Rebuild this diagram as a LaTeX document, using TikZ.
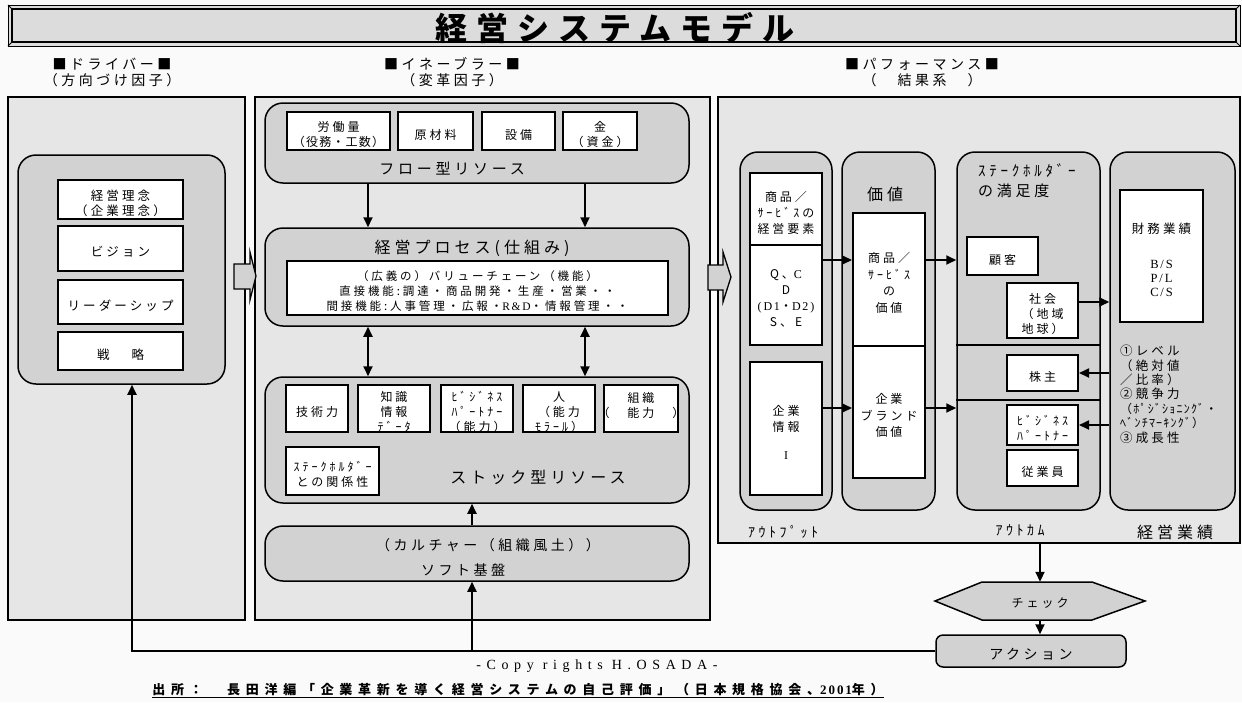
\documentclass[tikz,border=0pt]{standalone}
\usepackage{fontspec}
\setmainfont{Noto Sans CJK JP}
\newfontfamily\jp[LetterSpace=25]{Noto Sans CJK JP}
\newfontfamily\jpn[LetterSpace=10]{Noto Sans CJK JP}
\newfontfamily\jpw[LetterSpace=44]{Noto Sans CJK JP}
\newfontfamily\jpt[LetterSpace=28]{Noto Sans CJK JP}
\newfontfamily\ser[LetterSpace=15]{Liberation Serif}
\newfontfamily\serc[LetterSpace=40]{Liberation Serif}
\usetikzlibrary{arrows.meta,fit}
\definecolor{bgc}{HTML}{FAFAFA}
\definecolor{panelc}{HTML}{E6E6E6}
\definecolor{contc}{HTML}{D2D2D2}
\definecolor{titlec}{HTML}{DCDCDC}
\newcommand{\fs}[2]{\fontsize{#1}{#2}\selectfont}
\tikzset{
 panel/.style={draw, line width=1.5pt, fill=panelc, inner sep=0pt},
 cont/.style={draw, line width=1.5pt, fill=contc, rounded corners=18pt, inner sep=0pt},
 wbox/.style={draw, line width=2pt, fill=white, inner sep=0pt},
 boxtext/.style={inner sep=0pt, align=center, font=\jp\fs{12}{15}},
 lab/.style={inner sep=0pt, align=center},
 arr/.style={line width=1.8pt, -{Triangle[length=10pt,width=9pt]}},
 darr/.style={line width=1.8pt, {Triangle[length=10pt,width=9pt]}-{Triangle[length=10pt,width=9pt]}},
 blockarrow/.style={line width=1.3pt, fill=contc, line join=miter},
}
% white box with its text: name, x1, y1, x2, y2, text options, text
\newcommand{\tbox}[7]{%
  \node[wbox, fit={(#2,#3) (#4,#5)}] (#1) {};
  \node[boxtext, #6] (#1t) at ([yshift=-3.5pt]#1.center) {#7};}
\begin{document}
\begin{tikzpicture}[x=1pt,y=-1pt]
\useasboundingbox (0,0) rectangle (1242,702);
\fill[bgc] (0,0) rectangle (1242,702);
% title bar
\draw[line width=1pt, fill=titlec] (8,5) rectangle (1240,46);
\draw[line width=2pt] (12,9) rectangle (1236,42);
\draw[line width=1pt] (8,5) -- (12,9) (1240,5) -- (1236,9) (8,46) -- (12,42) (1240,46) -- (1236,42);
\node[lab, font=\jpt\bfseries\fs{32}{32}] (title) at (615,28) {経営システムモデル};
% section labels
\node[lab, font=\jp\fs{14}{16}] (ldrv) at (112,72) {■ドライバー■\\（方向づけ因子）};
\node[lab, font=\jp\fs{14}{16}] (lenb) at (452,72) {■イネーブラー■\\（変革因子）};
\node[lab, font=\jp\fs{14}{16}] (lprf) at (922,72) {■パフォーマンス■\\（　結果系　）};
% panels
\node[panel, fit={(8,97) (245,620)}] (pdrv) {};
\node[panel, fit={(255,97) (710,620)}] (penb) {};
\node[panel, fit={(718,97) (1240,543)}] (pprf) {};
% driver
\node[cont, fit={(18,155) (225,384)}] (drvc) {};
\tbox{rinen}{58}{180}{183}{219}{font=\jp\fs{12.5}{15}}{経営理念\\（企業理念）}
\tbox{vision}{58}{226}{183}{271}{font=\jp\fs{12.5}{15}}{ビジョン}
\tbox{leader}{58}{280}{183}{324}{font=\jp\fs{12.5}{15}}{リーダーシップ}
\tbox{senryaku}{58}{332}{183}{370}{font=\jp\fs{12.5}{15}}{戦\hspace{22pt}略}
% enabler: flow
\node[cont, fit={(265,103) (689,183)}] (flow) {};
\tbox{labor}{287}{112}{390}{150}{}{労働量\\{\jpn（役務・工数）}}
\tbox{mat}{398}{112}{473}{150}{}{原材料}
\tbox{equip}{482}{112}{555}{150}{}{設備}
\tbox{money}{563}{112}{637}{150}{}{金\\（資金）}
\node[lab, font=\jp\fs{15}{15}] (flowlbl) at (452,169) {フロー型リソース};
% process
\node[cont, fit={(265,228) (689,326)}] (proc) {};
\node[lab, font=\jp\fs{16}{16}] (proclbl) at (472,248) {経営プロセス(仕組み)};
\tbox{vchain}{287}{261}{668}{315}{font=\jp\fs{11.5}{15}}{（広義の）バリューチェーン（機能）\\直接機能:調達・商品開発・生産・営業・・\\間接機能:人事管理・広報・{\ser R\&D}・情報管理・・}
% stock
\node[cont, fit={(265,377) (689,503)}] (stock) {};
\tbox{tech}{286}{385}{348}{432}{}{技術力}
\tbox{know}{358}{385}{430}{432}{}{知識\\情報\\ﾃﾞｰﾀ}
\tbox{bizp}{441}{385}{513}{432}{}{ﾋﾞｼﾞﾈｽ\\ﾊﾟｰﾄﾅｰ\\（能力）}
\tbox{people}{523}{385}{595}{432}{}{人\\（能力\\ﾓﾗｰﾙ）}
\tbox{org}{604}{385}{678}{432}{}{組織\\（　能力　）\\\mbox{}}
\tbox{stkrel}{286}{447}{379}{495}{}{ｽﾃｰｸﾎﾙﾀﾞｰ\\との関係性}
\node[lab, font=\jp\fs{16}{16}] (stocklbl) at (538,477) {ストック型リソース};
% soft
\node[cont, fit={(265,526) (689,581)}] (soft) {};
\node[lab, font=\jp\fs{14}{14}] (culture) at (488,545) {（カルチャー（組織風土））};
\node[lab, font=\jp\fs{14}{14}] (softlbl) at (463,570) {ソフト基盤};
% performance: output
\node[cont, fit={(740,152) (832,510)}] (outp) {};
\tbox{elem}{750}{173}{822}{245}{font=\jp\fs{12}{16}}{商品／\\ｻｰﾋﾞｽの\\経営要素}
\tbox{qcd}{750}{245}{822}{345}{font=\jp\fs{12}{16}}{Q、{\ser C}\\D\\{\ser (D1}・{\ser D2)}\\S、E}
\tbox{cinfo}{750}{362}{822}{495}{font=\jp\fs{12}{16}}{企業\\情報\\[12pt]{\ser I}}
\node[lab, font=\jp\fs{14}{14}] (outlbl) at (783,532) {ｱｳﾄﾌﾟｯﾄ};
% value
\node[cont, fit={(842,152) (935,510)}] (valc) {};
\node[lab, font=\jp\fs{16}{16}] (vallbl) at (885,194) {価値};
\tbox{vgoods}{853}{213}{925}{346}{font=\jp\fs{12}{16.5}}{商品／\\ｻｰﾋﾞｽ\\の\\価値}
\tbox{vbrand}{853}{346}{925}{478}{font=\jp\fs{12}{16.5}}{企業\\ブランド\\価値}
% outcome
\node[cont, fit={(957,152) (1100,510)}] (outcm) {};
\coordinate (y345) at (0,345); \coordinate (y400) at (0,400);
\draw[line width=1.5pt] (outcm.west |- y345) -- (outcm.east |- y345);
\draw[line width=1.5pt] (outcm.west |- y400) -- (outcm.east |- y400);
\node[lab, anchor=north west, align=left, font=\jp\fs{15}{20}] (stklbl) at (978,163) {ｽﾃｰｸﾎﾙﾀﾞｰ\\の満足度};
\tbox{cust}{967}{237}{1038}{275}{}{顧客}
\tbox{social}{1007}{283}{1078}{338}{}{社会\\（地域\\地球）}
\tbox{holder}{1007}{355}{1078}{391}{}{株主}
\tbox{bp}{1007}{405}{1078}{445}{}{ﾋﾞｼﾞﾈｽ\\ﾊﾟｰﾄﾅｰ}
\tbox{emp}{1007}{450}{1078}{486}{}{従業員}
\node[lab, font=\jp\fs{14}{14}] (outcmlbl) at (1020,530) {ｱｳﾄｶﾑ};
% business results
\node[cont, fit={(1110,152) (1235,510)}] (perf) {};
\tbox{fin}{1120}{190}{1203}{322}{font=\jp\fs{12.5}{14}}{財務業績\\[21pt]{\ser B/S}\\{\ser P/L}\\{\ser C/S}}
\node[lab, anchor=north west, align=left, font=\jp\fs{12.5}{14.4}] (perflist) at (1120,345) {①レベル\\（絶対値\\／比率）\\②競争力\\{\jpn\fs{12}{14.4}（ﾎﾟｼﾞｼｮﾆﾝｸﾞ・}\\{\jpn\fs{12}{14.4}ﾍﾞﾝﾁﾏｰｷﾝｸﾞ）}\\③成長性};
\node[lab, font=\jp\fs{16}{16}] (perflbl) at (1175,532) {経営業績};
% block arrows
\draw[blockarrow] (234,264) -- (250,264) -- (250,252) -- (256,276) -- (250,300) -- (250,289) -- (234,289) -- cycle;
\draw[blockarrow] (708,265) -- (723,265) -- (723,252) -- (731,277) -- (723,302) -- (723,290) -- (708,290) -- cycle;
% middle connectors
\coordinate (xa) at (368,0); \coordinate (xb) at (585,0); \coordinate (xs) at (472,0); \coordinate (xl) at (132,0);
\draw[arr] (flow.south -| xa) -- (proc.north -| xa);
\draw[arr] (flow.south -| xb) -- (proc.north -| xb);
\draw[darr] (proc.south -| xa) -- (stock.north -| xa);
\draw[darr] (proc.south -| xb) -- (stock.north -| xb);
\draw[arr] (soft.north -| xs) -- (stock.south -| xs);
% right connectors
\coordinate (ya) at (0,260); \coordinate (yb) at (0,408); \coordinate (yc) at (0,302);
\draw[arr] (qcd.east |- ya) -- (vgoods.west |- ya);
\draw[arr] (vgoods.east |- ya) -- (outcm.west |- ya);
\draw[arr] (cinfo.east |- yb) -- (vbrand.west |- yb);
\draw[arr] (vbrand.east |- yb) -- (outcm.west |- yb);
\draw[arr] (social.east |- yc) -- (perf.west |- yc);
\draw[arr] (perf.west |- holder.east) -- (holder.east);
\draw[arr] (perf.west |- bp.east) -- (bp.east);
% check / action
\draw[line width=1.5pt, fill=contc] (935,601) -- (982,582) -- (1092,582) -- (1145,601) -- (1092,620) -- (982,620) -- cycle;
\node[lab, minimum width=210pt, minimum height=38pt, font=\jp\fs{12}{12}] (chk) at (1040,601) {};
\node[lab, font=\jp\fs{12}{12}] (chkt) at ([yshift=-2pt]chk.center) {チェック};
\node[draw, line width=1.5pt, fill=contc, rounded corners=7pt, inner sep=0pt, fit={(936,635) (1126,667)}] (act) {};
\node[lab, font=\jp\fs{14}{14}] (actt) at ([yshift=-3pt]act.center) {アクション};
\draw[arr] (pprf.south -| chk) -- (chk.north);
\draw[arr] (chk.south) -- (act.north -| chk);
% feedback loop
\draw[arr] (act.west) -| (xl |- drvc.south);
\draw[arr] (act.west -| xs) -- (soft.south -| xs);
% footer
\node[lab, font=\serc\fs{14}{14}] (copy) at (597,666) {-Copy rights H.OSADA-};
\node[lab, font=\jpw\bfseries\fs{13}{13}] (src) at (518,691) {\underline{出所：　長田洋編「企業革新を導く経営システムの自己評価」（日本規格協会、{\ser\bfseries 2001}年）}};
\end{tikzpicture}
\end{document}
